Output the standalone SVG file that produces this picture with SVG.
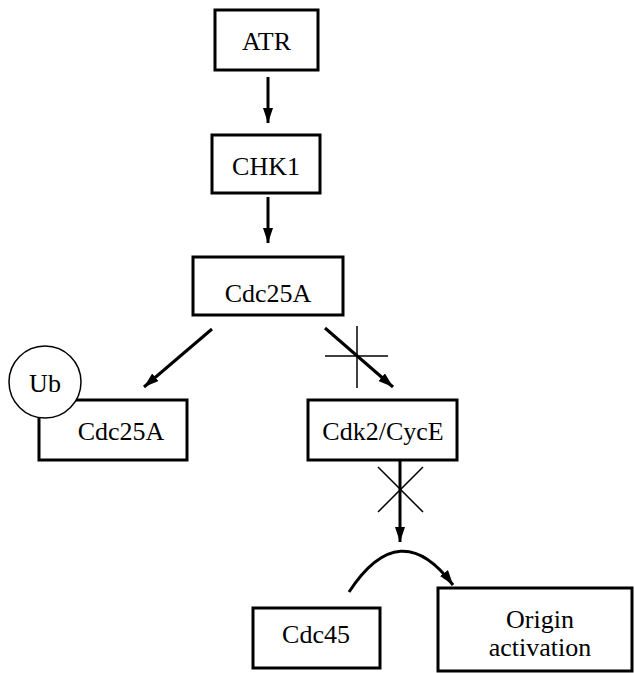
<svg xmlns="http://www.w3.org/2000/svg" width="635" height="673" viewBox="0 0 635 673">
<style>
.box{fill:#fff;stroke:#000;stroke-width:3}
.lbl{font-family:'Liberation Serif','Times New Roman','DejaVu Serif',serif;font-size:26px;fill:#000;text-anchor:middle}
.arr{fill:none;stroke:#000;stroke-width:3;marker-end:url(#ah)}
.thin{stroke:#000;stroke-width:1.5;fill:none}
</style>
<defs>
<marker id="ah" markerUnits="userSpaceOnUse" markerWidth="16" markerHeight="12" refX="15" refY="5" orient="auto">
<path d="M0,0 L15,5 L0,10 z" fill="#000"/>
</marker>
</defs>
<rect width="635" height="673" fill="#fff"/>
<g id="connectors">
<line class="arr" x1="268" y1="77" x2="268" y2="123"/>
<line class="arr" x1="268" y1="197" x2="268" y2="243"/>
<line class="arr" x1="212" y1="329" x2="144" y2="387"/>
<line class="arr" x1="325" y1="328" x2="393" y2="387"/>
<line class="thin" x1="325" y1="356" x2="388" y2="356"/>
<line class="thin" x1="357" y1="326" x2="357" y2="388"/>
<line class="arr" x1="400" y1="460" x2="400" y2="542"/>
<line class="thin" x1="378" y1="467" x2="423" y2="512"/>
<line class="thin" x1="423" y1="467" x2="378" y2="512"/>
<path class="arr" d="M349,592 Q400,514 453,585"/>
</g>
<g id="atr"><rect class="box" x="215" y="10" width="103" height="60"/><text class="lbl" font-family="Liberation Serif, serif" x="266.5" y="50">ATR</text></g>
<g id="chk1"><rect class="box" x="212" y="135" width="108" height="58"/><text class="lbl" x="266" y="175">CHK1</text></g>
<g id="cdc25a"><rect class="box" x="193" y="257" width="150" height="58"/><text class="lbl" x="268" y="302">Cdc25A</text></g>
<g id="cdc25a-ub"><rect class="box" x="39" y="400" width="148" height="60"/><text class="lbl" x="121" y="440">Cdc25A</text>
<circle cx="45" cy="382" r="36" fill="#fff" stroke="#000" stroke-width="1.5"/><text class="lbl" x="45" y="392">Ub</text></g>
<g id="cdk2"><rect class="box" x="308" y="400" width="149" height="60"/><text class="lbl" x="383" y="440">Cdk2/CycE</text></g>
<g id="cdc45"><rect class="box" x="253" y="608" width="127" height="60"/><text class="lbl" x="316" y="643">Cdc45</text></g>
<g id="origin"><rect class="box" x="438" y="588" width="194" height="83"/><text class="lbl" x="540" y="628">Origin</text><text class="lbl" x="540" y="656">activation</text></g>
</svg>
